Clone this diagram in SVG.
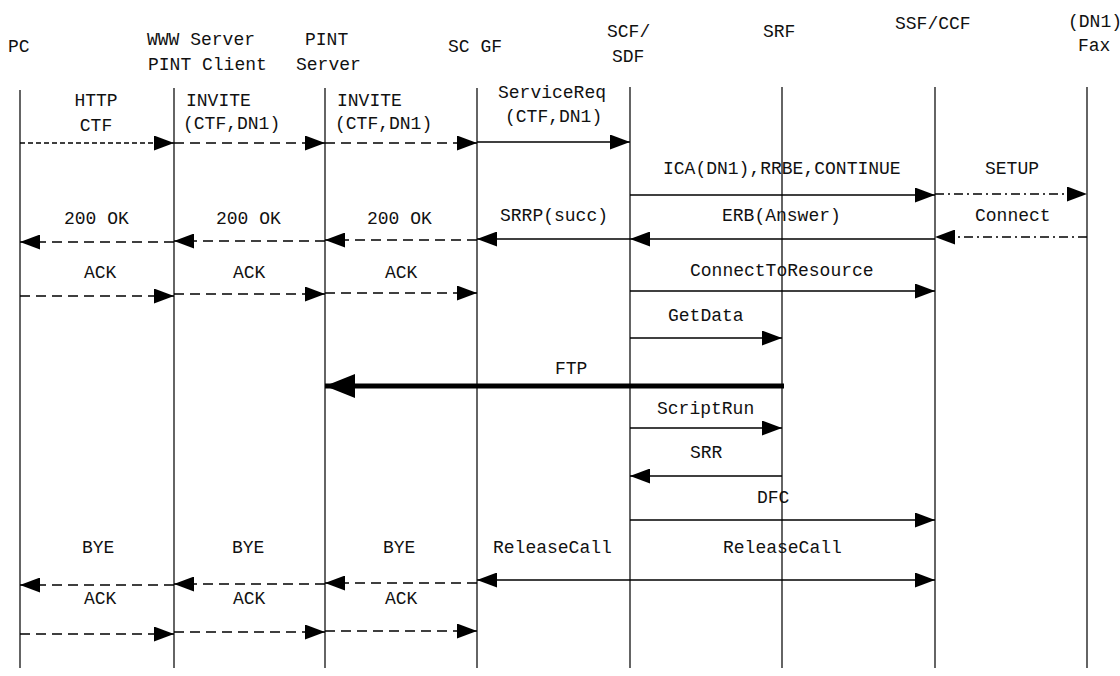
<svg xmlns="http://www.w3.org/2000/svg" width="1120" height="676" viewBox="0 0 1120 676">
  <style>
    text { font-family: "Liberation Mono", "DejaVu Sans Mono", monospace; font-size: 18px; fill: #111; }
    .ll { stroke: #111; stroke-width: 1.3; fill: none; }
    .msg { stroke: #000; stroke-width: 1.3; fill: none; marker-end: url(#ah); }
    .dash { stroke-dasharray: 10 6; }
    .fine { stroke-dasharray: 5 3; }
    .dd { stroke-dasharray: 9 4 2 4; }
    .bold { stroke-width: 5; marker-end: url(#ahBig); }
  </style>
  <defs>
    <marker id="ah" markerUnits="userSpaceOnUse" markerWidth="20" markerHeight="15" refX="20" refY="7.5" orient="auto">
      <path d="M0,0 L20,7.5 L0,15 z" fill="#000"/>
    </marker>
    <marker id="ahBig" markerUnits="userSpaceOnUse" markerWidth="30" markerHeight="24" refX="30" refY="12" orient="auto">
      <path d="M0,0 L30,12 L0,24 z" fill="#000"/>
    </marker>
  </defs>
  <rect width="1120" height="676" fill="#fff"/>

  <!-- participants with their lifelines -->
  <g id="pc">
    <text x="8" y="52">PC</text>
    <line class="ll" x1="20" y1="90" x2="20" y2="668"/>
  </g>
  <g id="www-server">
    <text x="147" y="45">WWW Server</text>
    <text x="148" y="70">PINT Client</text>
    <line class="ll" x1="174" y1="88" x2="174" y2="668"/>
  </g>
  <g id="pint-server">
    <text x="305" y="45">PINT</text>
    <text x="296" y="70">Server</text>
    <line class="ll" x1="325" y1="88" x2="325" y2="668"/>
  </g>
  <g id="scgf">
    <text x="448" y="52">SC GF</text>
    <line class="ll" x1="477" y1="88" x2="477" y2="668"/>
  </g>
  <g id="scf-sdf">
    <text x="607" y="37">SCF/</text>
    <text x="612" y="62">SDF</text>
    <line class="ll" x1="630" y1="87" x2="630" y2="668"/>
  </g>
  <g id="srf">
    <text x="763" y="37">SRF</text>
    <line class="ll" x1="782" y1="87" x2="782" y2="668"/>
  </g>
  <g id="ssf-ccf">
    <text x="895" y="29">SSF/CCF</text>
    <line class="ll" x1="935" y1="87" x2="935" y2="668"/>
  </g>
  <g id="fax">
    <text x="1068" y="27">(DN1)</text>
    <text x="1078" y="51">Fax</text>
    <line class="ll" x1="1087" y1="87" x2="1087" y2="668"/>
  </g>

  <!-- messages -->
  <g id="connectors">
    <line class="msg fine" x1="20" y1="143" x2="174" y2="143"/>
    <line class="msg dash" x1="174" y1="143" x2="325" y2="143"/>
    <line class="msg dash" x1="325" y1="143" x2="477" y2="143"/>
    <line class="msg" x1="477" y1="142" x2="630" y2="142"/>

    <line class="msg" x1="630" y1="195" x2="935" y2="195"/>
    <line class="msg dd" x1="935" y1="194" x2="1087" y2="194"/>

    <line class="msg dash" x1="174" y1="242" x2="20" y2="242"/>
    <line class="msg dash" x1="325" y1="241" x2="174" y2="241"/>
    <line class="msg dash" x1="477" y1="240" x2="325" y2="240"/>
    <line class="msg" x1="630" y1="239" x2="477" y2="239"/>
    <line class="msg" x1="935" y1="239" x2="630" y2="239"/>
    <line class="msg dd" x1="1087" y1="237" x2="935" y2="237"/>

    <line class="msg dash" x1="20" y1="296" x2="174" y2="296"/>
    <line class="msg dash" x1="174" y1="294" x2="325" y2="294"/>
    <line class="msg dash" x1="325" y1="293" x2="477" y2="293"/>
    <line class="msg" x1="630" y1="291" x2="935" y2="291"/>

    <line class="msg" x1="630" y1="338" x2="782" y2="338"/>
    <line class="msg bold" x1="784" y1="386" x2="325" y2="386"/>
    <line class="msg" x1="630" y1="428" x2="782" y2="428"/>
    <line class="msg" x1="782" y1="476" x2="630" y2="476"/>
    <line class="msg" x1="630" y1="520" x2="935" y2="520"/>

    <line class="msg dash" x1="174" y1="585" x2="20" y2="585"/>
    <line class="msg dash" x1="325" y1="584" x2="174" y2="584"/>
    <line class="msg dash" x1="477" y1="583" x2="325" y2="583"/>
    <line class="msg" x1="630" y1="580" x2="477" y2="580"/>
    <line class="msg" x1="630" y1="580" x2="935" y2="580"/>

    <line class="msg dash" x1="20" y1="634" x2="174" y2="634"/>
    <line class="msg dash" x1="174" y1="632" x2="325" y2="632"/>
    <line class="msg dash" x1="325" y1="631" x2="477" y2="631"/>
  </g>

  <!-- message labels -->
  <g id="labels">
    <text x="96" y="106" text-anchor="middle">HTTP</text>
    <text x="96" y="131" text-anchor="middle">CTF</text>
    <text x="186" y="106">INVITE</text>
    <text x="183" y="129">(CTF,DN1)</text>
    <text x="337" y="106">INVITE</text>
    <text x="335" y="129">(CTF,DN1)</text>
    <text x="498" y="98">ServiceReq</text>
    <text x="505" y="122">(CTF,DN1)</text>

    <text x="663" y="174">ICA(DN1),RRBE,CONTINUE</text>
    <text x="985" y="174">SETUP</text>

    <text x="64" y="224">200 OK</text>
    <text x="216" y="224">200 OK</text>
    <text x="367" y="224">200 OK</text>
    <text x="500" y="221">SRRP(succ)</text>
    <text x="722" y="221">ERB(Answer)</text>
    <text x="975" y="221">Connect</text>

    <text x="84" y="278">ACK</text>
    <text x="233" y="278">ACK</text>
    <text x="385" y="278">ACK</text>
    <text x="690" y="276">ConnectToResource</text>

    <text x="668" y="321">GetData</text>
    <text x="555" y="374">FTP</text>
    <text x="657" y="414">ScriptRun</text>
    <text x="690" y="458">SRR</text>
    <text x="757" y="503">DFC</text>

    <text x="82" y="553">BYE</text>
    <text x="232" y="553">BYE</text>
    <text x="383" y="553">BYE</text>
    <text x="493" y="553">ReleaseCall</text>
    <text x="723" y="553">ReleaseCall</text>

    <text x="84" y="604">ACK</text>
    <text x="233" y="604">ACK</text>
    <text x="385" y="604">ACK</text>
  </g>
</svg>
